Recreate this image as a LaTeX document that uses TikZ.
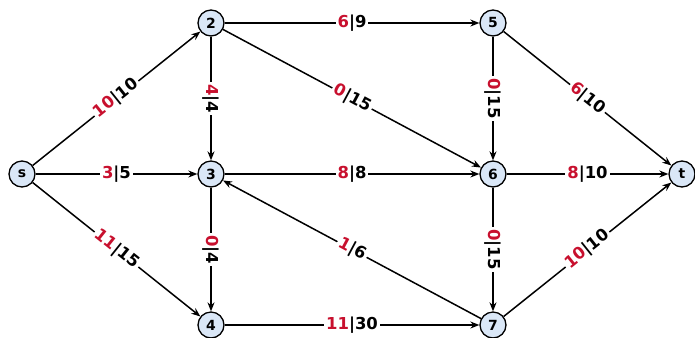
\documentclass[tikz,border=0pt]{standalone}
\usepackage{fontspec}
\setmainfont{DejaVu Sans}
\usetikzlibrary{arrows.meta}
\definecolor{flowred}{RGB}{200,16,46}
\definecolor{vtxfill}{RGB}{218,231,247}
\tikzset{
  vtx/.style={circle, draw=black, line width=1.3bp, fill=vtxfill,
    minimum size=26bp, inner sep=0pt, font=\bfseries\fontsize{14}{14}\selectfont},
  arc/.style={line width=1.5bp, -{Stealth[length=9bp,width=7bp]}},
  lbl/.style={midway, sloped, fill=white, inner sep=2bp,
    font=\bfseries\fontsize{16.5}{16.5}\selectfont}
}
\newcommand{\fl}[2]{\textcolor{flowred}{#1}|#2}
\begin{document}
\begin{tikzpicture}[x=1bp,y=-1bp]
\useasboundingbox (0,0) rectangle (695,337);
\node[vtx] (s) at (22,174) {s};
\node[vtx] (n2) at (211,23) {2};
\node[vtx] (n3) at (211,174) {3};
\node[vtx] (n4) at (211,325) {4};
\node[vtx] (n5) at (493,23) {5};
\node[vtx] (n6) at (493,174) {6};
\node[vtx] (n7) at (493,325) {7};
\node[vtx] (t) at (682,174) {t};

\draw[arc] (s) -- node[lbl] {\fl{10}{10}} (n2);
\draw[arc] (s) -- node[lbl] {\fl{3}{5}} (n3);
\draw[arc] (s) -- node[lbl] {\fl{11}{15}} (n4);
\draw[arc] (n2) -- node[lbl] {\fl{6}{9}} (n5);
\draw[arc] (n2) -- node[lbl] {\fl{4}{4}} (n3);
\draw[arc] (n2) -- node[lbl] {\fl{0}{15}} (n6);
\draw[arc] (n5) -- node[lbl] {\fl{0}{15}} (n6);
\draw[arc] (n5) -- node[lbl] {\fl{6}{10}} (t);
\draw[arc] (n3) -- node[lbl] {\fl{8}{8}} (n6);
\draw[arc] (n3) -- node[lbl] {\fl{0}{4}} (n4);
\draw[arc] (n6) -- node[lbl] {\fl{8}{10}} (t);
\draw[arc] (n6) -- node[lbl] {\fl{0}{15}} (n7);
\draw[arc] (n7) -- node[lbl] {\fl{1}{6}} (n3);
\draw[arc] (n7) -- node[lbl] {\fl{10}{10}} (t);
\draw[arc] (n4) -- node[lbl] {\fl{11}{30}} (n7);
\end{tikzpicture}
\end{document}
